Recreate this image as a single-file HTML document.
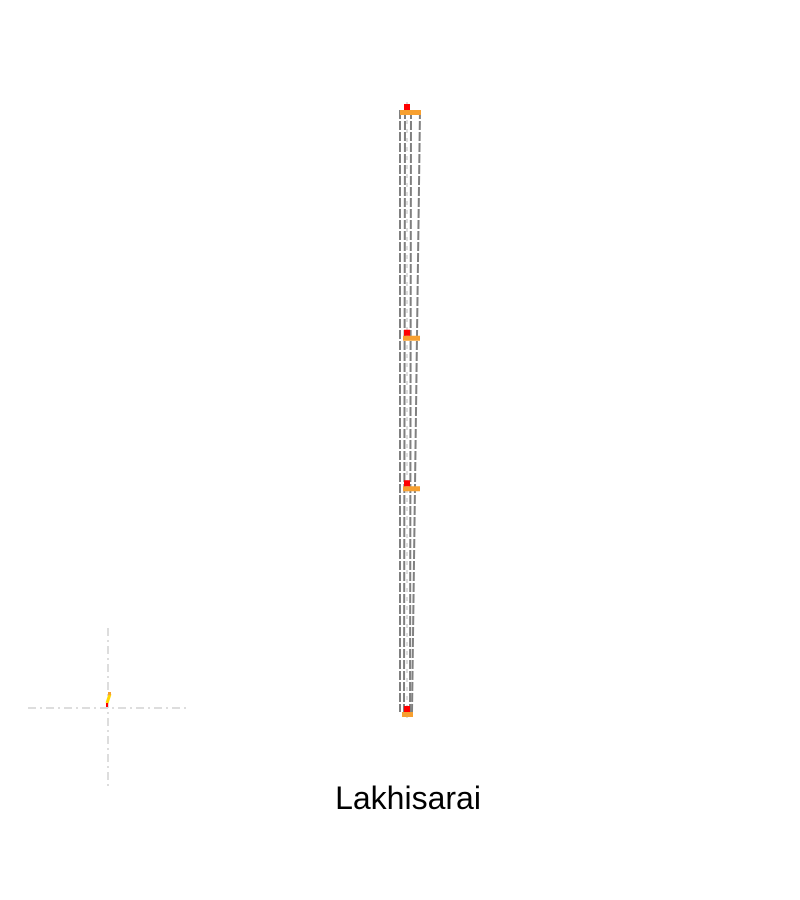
<!DOCTYPE html>
<html><head><meta charset="utf-8"><style>
html,body{margin:0;padding:0;background:#fff;width:800px;height:900px;overflow:hidden}
svg{display:block}
</style></head><body>
<svg id="chart" width="800" height="900">
<g id="marks"></g>
<g>
<line x1="28" y1="708" x2="188" y2="708" stroke="#ddd" stroke-width="2" stroke-dasharray="8,4,2,4"/>
<line x1="108" y1="628" x2="108" y2="788" stroke="#ddd" stroke-width="2" stroke-dasharray="8,4,2,4"/>
<line x1="110" y1="694" x2="107" y2="703" stroke="#ffd700" stroke-width="3"/>
<rect x="108" y="692" width="3" height="3" fill="#f7a030"/>
<rect x="106" y="703" width="2" height="4" fill="red"/>
</g>
<text x="408" y="809" text-anchor="middle" font-family="Liberation Sans, sans-serif" font-size="32" fill="#000">Lakhisarai</text>
</svg>
<script>
// Data: relative position of stations along the corridor (0 = top, 1 = bottom)
const stations = [0, 0.375, 0.625, 1];
const stationNames = ["north", "mid-north", "mid-south", "south"];
const orangeWidths = [21, 17, 17, 11];
const yTop = 110, yBot = 712;
const y = v => yTop + v * (yBot - yTop);
const g = document.getElementById('marks');
const NS = 'http://www.w3.org/2000/svg';
function mk(tag, attrs){const e=document.createElementNS(NS,tag);for(const k in attrs)e.setAttribute(k,attrs[k]);g.appendChild(e);return e;}
const lines = [[400,400],[405,404],[411,410],[420,412]];
lines.forEach((l,i)=>{
  const e = mk('line',{x1:l[0],y1:y(0),x2:l[1],y2:y(1),stroke:'#808080','stroke-width':2,'stroke-dasharray':'9,2'});
  
  
});
const c = mk('line',{x1:407,y1:y(0)-8,x2:407,y2:y(1)+10,stroke:'#ddd','stroke-width':2,'stroke-dasharray':'4,5'});


stations.forEach((s,i)=>{
  const yy = y(s);
  const o = mk('rect',{x:i===0?400:(i===3?402:403),y:yy,width:orangeWidths[i],height:5,fill:'#f7a030'});
  
  
  const r = mk('rect',{x:404,y:yy-6,width:6,height:6,fill:'red'});
  
  
});
</script>
</body></html>
